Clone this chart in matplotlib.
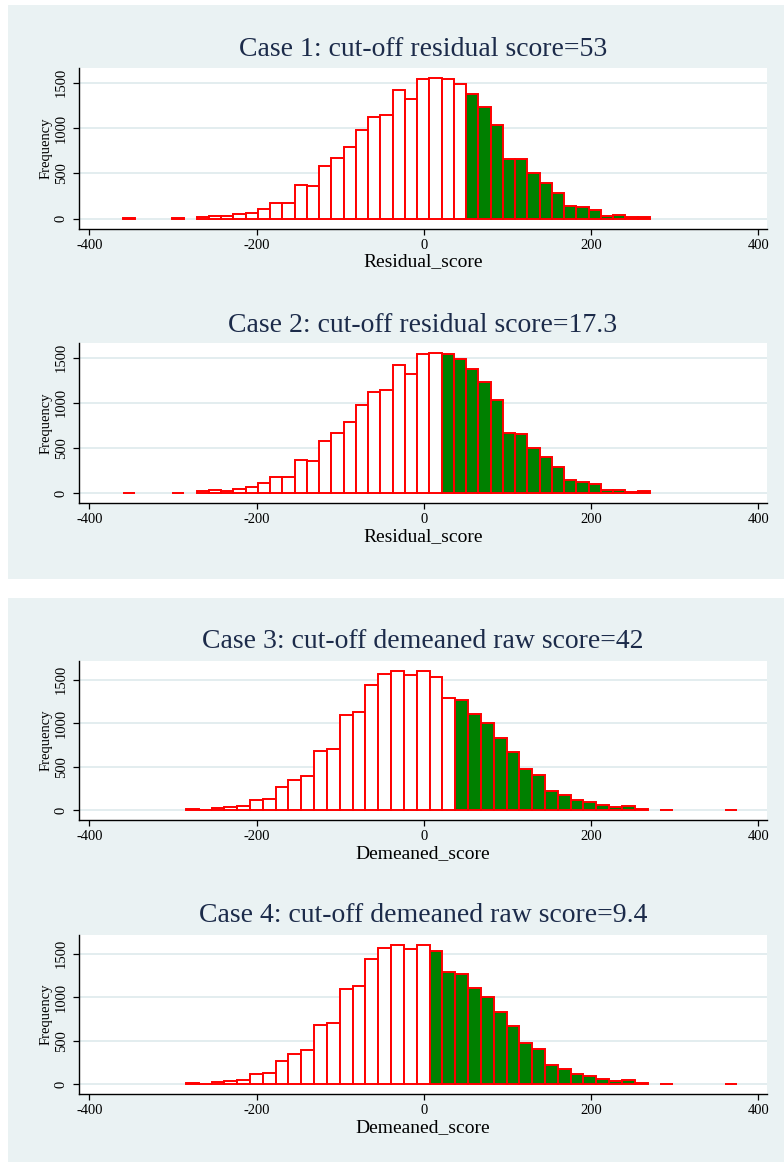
import numpy as np
import matplotlib
matplotlib.use('Agg')
import matplotlib.pyplot as plt
from matplotlib.patches import Rectangle

plt.rcParams['font.family'] = ['Liberation Serif', 'DejaVu Serif']
plt.rcParams['axes.unicode_minus'] = False

# ---- data (43 bins each, Stata default) ----
resid_start = -359.5
resid_width = 14.65
resid_counts = [5, 0, 0, 0, 4, 0, 22, 30, 26, 48, 63, 111, 174, 174, 367, 359,
                581, 667, 785, 974, 1118, 1144, 1420, 1320, 1540, 1552, 1544,
                1481, 1374, 1230, 1030, 663, 656, 500, 396, 285, 144, 126, 96,
                30, 37, 15, 22]

dem_start = -284.5
dem_width = 15.34
dem_counts = [15, 3, 23, 34, 53, 122, 134, 267, 351, 389, 676, 698, 1088, 1122,
              1439, 1561, 1599, 1557, 1595, 1531, 1283, 1263, 1099, 1004, 824,
              668, 473, 408, 225, 179, 118, 95, 65, 38, 50, 19, 0, 4, 0, 0, 0,
              0, 4]

titles = ['Case 1: cut-off residual score=53',
          'Case 2: cut-off residual score=17.3',
          'Case 3: cut-off demeaned raw score=42',
          'Case 4: cut-off demeaned raw score=9.4']
xlabels = ['Residual_score', 'Residual_score', 'Demeaned_score', 'Demeaned_score']
green_from = [28, 26, 21, 19]   # first shaded bin in each case
xticks = [-400, -200, 0, 200, 400]
yticks = [0, 500, 1000, 1500]

W, H = 784, 1164
BG = '#EAF2F3'
TITLE_C = '#1C2B4A'

fig = plt.figure(figsize=(W/100, H/100), dpi=100)
fig.patch.set_facecolor('white')

def fx(px): return px / W
def fy(py): return 1 - py / H

# two grey panels, in a background axes so they sit under everything
bg = fig.add_axes([0, 0, 1, 1], zorder=-10)
bg.set_xlim(0, W); bg.set_ylim(H, 0); bg.axis('off')
for top, bot in [(5, 579), (598, 1162)]:
  bg.add_patch(Rectangle((8, top), W-8, bot-top, color=BG, lw=0))

# axes boxes in pixels: left, top, right, bottom ; title centre y
boxes = [(79, 68, 767, 228.5, 50),
         (79, 343, 767, 503, 325),
         (79, 661, 767, 820, 641),
         (79, 935, 767, 1094, 915)]

datasets = [(resid_start, resid_width, resid_counts),
            (resid_start, resid_width, resid_counts),
            (dem_start, dem_width, dem_counts),
            (dem_start, dem_width, dem_counts)]

for i, (l, t, r, b, ty) in enumerate(boxes):
  ax = fig.add_axes([fx(l), fy(b), (r-l)/W, (b-t)/H])
  start, w, counts = datasets[i]
  counts = np.array(counts)
  idx = np.arange(len(counts))
  lefts = start + w*idx
  keep = counts > 0          # empty bins draw nothing
  colors = ['#008000' if k >= green_from[i] else 'white' for k in idx[keep]]
  ax.bar(lefts[keep], counts[keep], width=w, align='edge', color=colors,
         edgecolor='#FF0000', linewidth=1.4, zorder=3)
  top = counts.max()
  ax.set_ylim(-0.0705*top, 1.071*top)
  ax.set_xlim(-412.3, 410.5)
  ax.set_xticks(xticks)
  ax.set_yticks(yticks)
  ax.set_yticklabels([str(v) for v in yticks], rotation=90, va='center')
  ax.grid(axis='y', color='#E3EDEF', linewidth=1.4, zorder=0)
  ax.set_axisbelow(True)
  for s in ['top', 'right']:
    ax.spines[s].set_visible(False)
  for s in ['left', 'bottom']:
    ax.spines[s].set_linewidth(1.0)
  ax.tick_params(direction='out', length=4, width=0.9, labelsize=10.5, pad=3.5)
  ax.tick_params(axis='y', pad=4)
  ax.set_ylabel('Frequency', fontsize=10.5, labelpad=2)
  ax.set_xlabel(xlabels[i], fontsize=14, labelpad=1)
  fig.text(fx((l+r)/2), fy(ty), titles[i], ha='center', va='center',
           fontsize=20, color=TITLE_C)

fig.savefig('out.png', dpi=100, facecolor='white')
